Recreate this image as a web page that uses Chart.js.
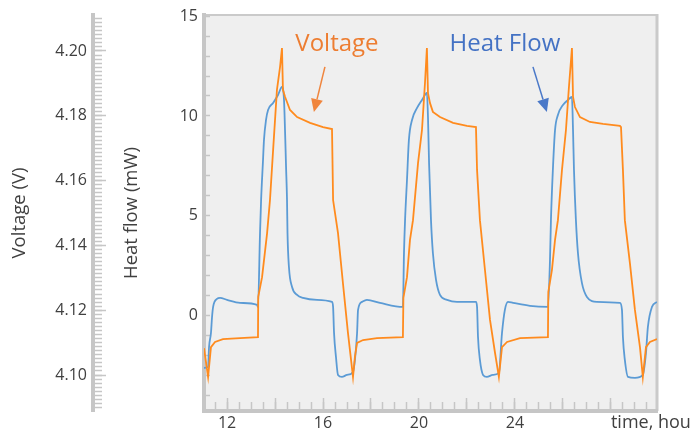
<!DOCTYPE html>
<html><head><meta charset="utf-8">
<script src="https://cdn.jsdelivr.net/npm/chart.js@4/dist/chart.umd.min.js"></script>
<style>html,body{margin:0;padding:0;background:#fff;}canvas{display:block;}</style>
</head><body>
<canvas id="c" width="691" height="439"></canvas>
<script>
// ---- data ----
const heatTime = [11.00,11.21,11.25,11.33,11.375,11.42,11.58,11.71,12.00,12.54,13.25,13.29,13.375,13.42,13.50,13.54,13.625,13.71,13.92,14.125,14.29,14.375,14.42,14.46,14.50,14.52,14.58,14.71,14.92,15.17,15.75,16.375,16.42,16.46,16.54,16.625,16.79,17.00,17.25,17.33,17.42,17.46,17.625,17.83,18.375,19.33,19.375,19.42,19.50,19.58,19.71,19.92,20.125,20.33,20.375,20.42,20.50,20.58,20.71,20.875,21.17,21.58,22.375,22.42,22.46,22.54,22.67,22.83,23.08,23.33,23.46,23.58,23.71,23.92,24.625,25.375,25.46,25.50,25.58,25.67,25.79,26.00,26.21,26.375,26.42,26.46,26.54,26.625,26.79,27.00,27.42,28.375,28.46,28.50,28.58,28.71,29.00,29.33,29.46,29.54,29.71,29.92];
const heatFlow = [-2.63,-2.58,-1.58,-0.88,-0.08,0.43,0.83,0.88,0.78,0.63,0.53,0.43,4.14,5.79,7.79,8.80,9.80,10.30,10.65,11.05,11.45,10.80,9.15,7.44,5.79,4.14,2.43,1.43,1.03,0.88,0.78,0.68,0.43,-0.88,-2.08,-2.98,-3.08,-2.98,-2.83,-2.23,-0.88,0.28,0.68,0.78,0.63,0.43,3.13,4.79,6.79,8.80,9.80,10.40,10.80,11.15,9.95,7.64,4.79,3.13,1.78,1.03,0.78,0.68,0.68,0.43,-1.08,-2.23,-2.98,-3.08,-2.98,-2.88,-0.88,0.28,0.68,0.63,0.48,0.43,2.78,4.79,7.29,9.29,10.05,10.55,10.80,10.95,9.29,7.29,4.79,3.13,1.63,0.93,0.68,0.63,0.28,-1.08,-2.23,-3.08,-3.13,-2.98,-1.88,-0.58,0.43,0.68];
const voltTime = [11.04,11.21,11.33,11.50,11.83,12.54,13.29,13.30,13.46,13.67,13.79,13.92,14.08,14.21,14.29,14.33,14.42,14.625,14.92,15.46,16.00,16.375,16.42,16.625,16.83,17.04,17.25,17.33,17.42,17.67,18.25,19.33,19.35,19.50,19.625,19.75,19.96,20.125,20.25,20.33,20.375,20.46,20.58,20.875,21.42,22.00,22.375,22.42,22.54,22.75,22.96,23.17,23.33,23.46,23.67,24.21,25.375,25.39,25.54,25.67,25.79,25.96,26.125,26.25,26.375,26.42,26.50,26.71,27.125,27.67,28.375,28.42,28.50,28.58,28.79,29.00,29.21,29.33,29.46,29.625,29.92];
const voltage = [4.1083,4.0994,4.1086,4.1102,4.1111,4.1114,4.1117,4.1241,4.1302,4.1438,4.1540,4.1694,4.1880,4.1951,4.2009,4.1880,4.1858,4.1818,4.1796,4.1778,4.1765,4.1759,4.1540,4.1438,4.1284,4.1130,4.0994,4.1056,4.1099,4.1108,4.1114,4.1117,4.1238,4.1302,4.1417,4.1478,4.1654,4.1756,4.1901,4.2009,4.1870,4.1839,4.1812,4.1796,4.1778,4.1769,4.1765,4.1633,4.1478,4.1324,4.1170,4.1068,4.0994,4.1086,4.1102,4.1114,4.1117,4.1256,4.1324,4.1417,4.1478,4.1633,4.1756,4.1889,4.2009,4.1858,4.1827,4.1796,4.1781,4.1775,4.1769,4.1765,4.1633,4.1478,4.1346,4.1201,4.1086,4.0994,4.1086,4.1102,4.1111];
const xTickLabels = [12,16,20,24];
const xAxisName = 'time, hours';
const heatTickLabels = [0,5,10,15];
const voltTickLabels = [4.10,4.12,4.14,4.16,4.18,4.20];
const seriesNames = ['Voltage','Heat Flow'];

// ---- layout / style ----
const X_MIN = 11.04, X_MAX = 29.92;
const H_MIN = -4.79, H_MAX = 15.06;
const V_MIN = 4.0889, V_MAX = 4.2111;
const AX = '#c6c6c6';
const TXT = '#404040';
const ORANGE = '#ff8b1e', BLUE = '#5b9bd5';
const ORANGE_T = '#ed7d31', BLUE_T = '#4472c4';

function range(a, b, step) {
  const out = [];
  for (let i = 0; a + i * step <= b + 1e-9; i++) out.push(+(a + i * step).toFixed(5));
  return out;
}
const setTicks = vals => s => { s.ticks = vals.map(v => ({ value: v })); };
const fix = (w, h) => s => {
  if (w != null) s.width = w;
  if (h != null) s.height = h;
  s.paddingLeft = 0; s.paddingRight = 0; s.paddingTop = 0; s.paddingBottom = 0;
};

Chart.defaults.font.family = "'Open Sans', 'Noto Sans', sans-serif";
Chart.defaults.color = TXT;

const bgPlugin = {
  id: 'plotBg',
  beforeDraw(chart) {
    const { ctx, chartArea: a } = chart;
    ctx.save();
    ctx.fillStyle = '#efefef';
    ctx.fillRect(a.left, a.top, a.right - a.left, a.bottom - a.top);
    ctx.strokeStyle = '#cacaca';
    ctx.lineWidth = 2;
    ctx.beginPath(); ctx.moveTo(a.left, a.top); ctx.lineTo(a.right, a.top); ctx.stroke();
    ctx.lineWidth = 3;
    ctx.beginPath(); ctx.moveTo(a.right, a.top - 1); ctx.lineTo(a.right, a.bottom); ctx.stroke();
    ctx.restore();
  }
};

const notes = [
  { text: seriesNames[0], at: [16.58, 13.61], from: [16.08, 12.46], to: [15.62, 10.2], color: ORANGE_T, arrow: '#f0853d' },
  { text: seriesNames[1], at: [23.58, 13.61], from: [24.75, 12.46], to: [25.33, 10.2], color: BLUE_T, arrow: '#4a78c8' }
];
const notePlugin = {
  id: 'notes',
  afterDatasetsDraw(chart) {
    const { ctx } = chart;
    const xs = chart.scales.x, ys = chart.scales.yH;
    ctx.save();
    notes.forEach(n => {
      ctx.font = "24px 'Open Sans', sans-serif";
      ctx.fillStyle = n.color;
      ctx.textAlign = 'center';
      ctx.textBaseline = 'middle';
      ctx.fillText(n.text, xs.getPixelForValue(n.at[0]), ys.getPixelForValue(n.at[1]));
      const x0 = xs.getPixelForValue(n.from[0]), y0 = ys.getPixelForValue(n.from[1]);
      const x1 = xs.getPixelForValue(n.to[0]), y1 = ys.getPixelForValue(n.to[1]);
      const ang = Math.atan2(y1 - y0, x1 - x0);
      const hl = 13, hw = 6;
      const bx = x1 - hl * Math.cos(ang), by = y1 - hl * Math.sin(ang);
      ctx.strokeStyle = n.arrow; ctx.fillStyle = n.arrow; ctx.lineWidth = 1.5;
      ctx.beginPath(); ctx.moveTo(x0, y0); ctx.lineTo(bx, by); ctx.stroke();
      ctx.beginPath();
      ctx.moveTo(x1, y1);
      ctx.lineTo(bx + hw * Math.sin(ang), by - hw * Math.cos(ang));
      ctx.lineTo(bx - hw * Math.sin(ang), by + hw * Math.cos(ang));
      ctx.closePath(); ctx.fill();
    });
    ctx.restore();
  }
};

const tickGrid = (len) => ({ drawOnChartArea: false, drawTicks: true, tickLength: len, tickWidth: 1.5, tickColor: AX });

new Chart(document.getElementById('c'), {
  type: 'line',
  data: {
    datasets: [
      { label: seriesNames[0], data: voltTime.map((t, i) => ({ x: t, y: voltage[i] })), xAxisID: 'x', yAxisID: 'yV',
        borderColor: ORANGE, borderWidth: 1.8, pointRadius: 0, tension: 0, fill: false },
      { label: seriesNames[1], data: heatTime.map((t, i) => ({ x: t, y: heatFlow[i] })), xAxisID: 'x', yAxisID: 'yH',
        borderColor: BLUE, borderWidth: 1.8, pointRadius: 0, cubicInterpolationMode: 'monotone', fill: false }
    ]
  },
  options: {
    responsive: false, animation: false, devicePixelRatio: 1,
    layout: { padding: { left: 0, top: 15, right: 34, bottom: 0 } },
    plugins: { legend: { display: false }, tooltip: { enabled: false } },
    scales: {
      x: { type: 'linear', position: 'bottom', weight: 2, min: X_MIN, max: X_MAX,
        afterBuildTicks: setTicks(range(12, 28, 2)), afterFit: fix(null, 28),
        ticks: { autoSkip: false, maxRotation: 0, padding: 16, font: { size: 16 }, color: TXT,
          callback: v => xTickLabels.includes(v) ? String(v) : '' },
        grid: tickGrid(-13), border: { display: true, width: 4, color: AX } },
      xMinor: { type: 'linear', position: 'bottom', weight: 1, min: X_MIN, max: X_MAX,
        afterBuildTicks: setTicks(range(11.5, 29.5, 0.5)), afterFit: fix(null, 0),
        ticks: { display: false, autoSkip: false }, grid: tickGrid(-9), border: { display: false } },
      xName: { type: 'linear', axis: 'x', position: { yH: H_MIN }, min: X_MIN, max: X_MAX,
        afterBuildTicks: setTicks([28]), afterFit: fix(null, 0),
        ticks: { autoSkip: false, maxRotation: 0, align: 'start', padding: 1, font: { size: 18 }, color: TXT,
          callback: () => xAxisName },
        grid: { display: false, drawTicks: false }, border: { display: false } },
      yH: { type: 'linear', position: 'left', weight: 1, min: H_MIN, max: H_MAX,
        afterBuildTicks: setTicks(range(-4, 15, 1)), afterFit: fix(111, null),
        ticks: { autoSkip: false, padding: 12, font: { size: 16 }, color: TXT,
          callback: v => heatTickLabels.includes(v) ? String(v) : '' },
        grid: tickGrid(-6), border: { display: true, width: 4, color: AX },
        title: { display: true, text: 'Heat flow (mW)', font: { size: 18.5 }, color: TXT, padding: { top: 28, bottom: 0 } } },
      yVMinor: { type: 'linear', position: 'left', weight: 2, min: V_MIN, max: V_MAX,
        afterBuildTicks: setTicks(range(4.09, 4.21, 0.00125)), afterFit: fix(0, null),
        ticks: { display: false, autoSkip: false }, grid: tickGrid(-9), border: { display: false } },
      yV: { type: 'linear', position: 'left', weight: 3, min: V_MIN, max: V_MAX,
        afterBuildTicks: setTicks(voltTickLabels), afterFit: fix(93, null),
        ticks: { autoSkip: false, padding: 19, font: { size: 16 }, color: TXT, callback: v => v.toFixed(2) },
        grid: tickGrid(-13), border: { display: true, width: 4, color: AX },
        title: { display: true, text: 'Voltage (V)', font: { size: 18.5 }, color: TXT, padding: { top: 9, bottom: 0 } } }
    }
  },
  plugins: [bgPlugin, notePlugin]
});
</script>
</body></html>
